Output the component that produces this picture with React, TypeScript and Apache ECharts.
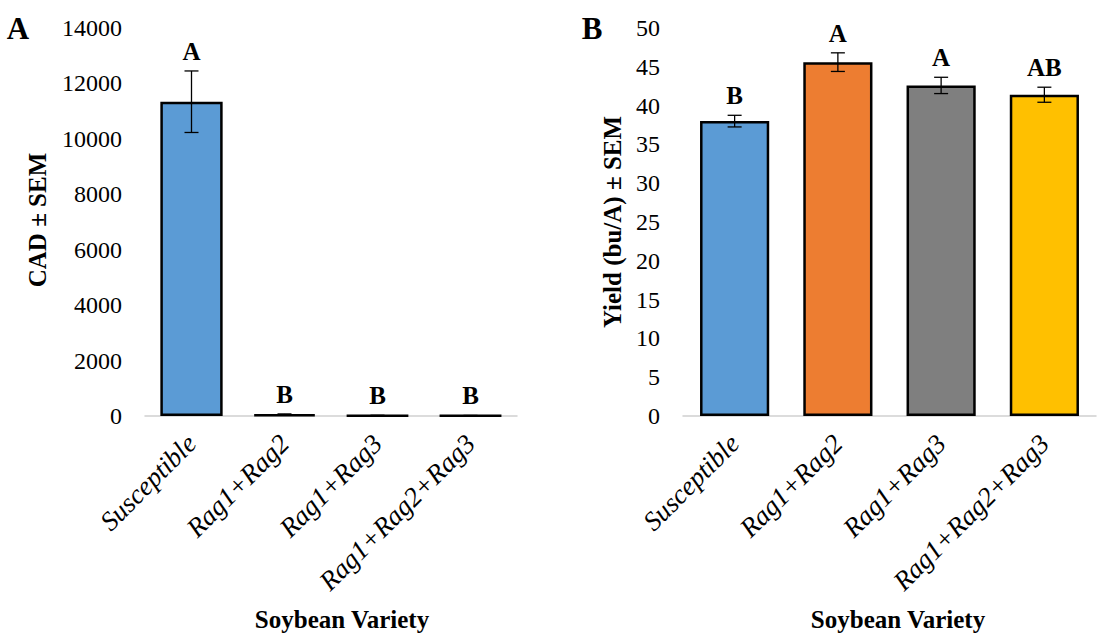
import React, { useEffect, useRef } from "react";
import * as echarts from "echarts";

const categories = ["Susceptible", "Rag1+Rag2", "Rag1+Rag3", "Rag1+Rag2+Rag3"];
const cadMean = [11340, 60, 20, 15];
const cadSem = [1110, 15, 5, 5];
const cadLetters = ["A", "B", "B", "B"];
const yieldMean = [38.0, 45.6, 42.6, 41.4];
const yieldSem = [0.75, 1.2, 1.05, 0.97];
const yieldLetters = ["B", "A", "A", "AB"];
const barColors = ["#5B9BD5", "#ED7D31", "#7F7F7F", "#FFC000"];
const cadAxis = { min: 0, max: 14000, interval: 2000 };
const yieldAxis = { min: 0, max: 50, interval: 5 };

const FONT = '"Liberation Serif", "Times New Roman", serif';

function errorSeries(mean: number[], sem: number[], letters: string[], axisIndex: number) {
  return {
    type: "custom",
    xAxisIndex: axisIndex,
    yAxisIndex: axisIndex,
    clip: false,
    z: 10,
    data: mean.map((m, i) => [i, m, sem[i]]),
    encode: { x: 0, y: 1 },
    renderItem: (params: any, api: any) => {
      const i = api.value(0);
      const m = api.value(1);
      const s = api.value(2);
      const top = api.coord([i, m + s]);
      const bot = api.coord([i, m - s]);
      const cap = 7;
      const ls = { stroke: "#000", lineWidth: 1.3 };
      return {
        type: "group",
        children: [
          { type: "line", shape: { x1: top[0], y1: top[1], x2: bot[0], y2: bot[1] }, style: ls },
          { type: "line", shape: { x1: top[0] - cap, y1: top[1], x2: top[0] + cap, y2: top[1] }, style: ls },
          { type: "line", shape: { x1: bot[0] - cap, y1: bot[1], x2: bot[0] + cap, y2: bot[1] }, style: ls },
          {
            type: "text",
            x: top[0],
            y: top[1] - 7,
            style: {
              text: letters[params.dataIndex],
              fontFamily: FONT,
              fontWeight: "bold",
              fontSize: 25,
              fill: "#000",
              align: "center",
              verticalAlign: "bottom",
            },
          },
        ],
      };
    },
  };
}

function xAxisCfg(gridIndex: number) {
  return {
    type: "category",
    gridIndex,
    data: categories,
    axisLine: { lineStyle: { color: "#D0D0D0", width: 1.5 } },
    axisTick: { show: false },
    axisLabel: {
      interval: 0,
      rotate: 45,
      margin: 23,
      fontFamily: FONT,
      fontStyle: "italic",
      fontSize: 27,
      color: "#000",
    },
  };
}

function yAxisCfg(gridIndex: number, ax: { min: number; max: number; interval: number }) {
  return {
    type: "value",
    gridIndex,
    min: ax.min,
    max: ax.max,
    interval: ax.interval,
    axisLine: { show: false },
    axisTick: { show: false },
    splitLine: { show: false },
    axisLabel: {
      margin: 23,
      fontFamily: FONT,
      fontSize: 24,
      color: "#000",
      formatter: (v: number) => String(v),
    },
  };
}

function barSeries(values: number[], axisIndex: number) {
  return {
    type: "bar",
    xAxisIndex: axisIndex,
    yAxisIndex: axisIndex,
    barCategoryGap: "33%",
    data: values.map((v, i) => ({
      value: v,
      itemStyle: { color: barColors[i], borderColor: "#000", borderWidth: 2.5 },
    })),
  };
}

export default function App() {
  const ref = useRef<HTMLDivElement>(null);
  useEffect(() => {
    if (!ref.current) return;
    const chart = echarts.init(ref.current, undefined, { renderer: "svg" });
    const titleStyle = (text: string, size = 24) => ({
      text,
      fontFamily: FONT,
      fontWeight: "bold",
      fontSize: size,
      fill: "#000",
      align: "center",
      verticalAlign: "middle",
    });
    chart.setOption({
      animation: false,
      backgroundColor: "#fff",
      grid: [
        { left: 145, top: 28, width: 372, height: 388 },
        { left: 683, top: 28, width: 413, height: 388 },
      ],
      xAxis: [xAxisCfg(0), xAxisCfg(1)],
      yAxis: [yAxisCfg(0, cadAxis), yAxisCfg(1, yieldAxis)],
      series: [
        barSeries(cadMean, 0),
        barSeries(yieldMean, 1),
        errorSeries(cadMean, cadSem, cadLetters, 0),
        errorSeries(yieldMean, yieldSem, yieldLetters, 1),
      ],
      graphic: [
        { type: "text", x: 18, y: 28, style: titleStyle("A", 31) },
        { type: "text", x: 592, y: 28, style: titleStyle("B", 31) },
        { type: "text", x: 37, y: 220, rotation: Math.PI / 2, style: titleStyle("CAD ± SEM", 25) },
        { type: "text", x: 612, y: 222, rotation: Math.PI / 2, style: titleStyle("Yield (bu/A) ± SEM", 25) },
        { type: "text", x: 342, y: 619, style: titleStyle("Soybean Variety", 25) },
        { type: "text", x: 898, y: 619, style: titleStyle("Soybean Variety", 25) },
      ],
    });
    return () => chart.dispose();
  }, []);
  return (
    <div
      ref={ref}
      style={{ position: "fixed", left: 0, top: 0, width: 1097, height: 634, background: "#fff" }}
    />
  );
}
